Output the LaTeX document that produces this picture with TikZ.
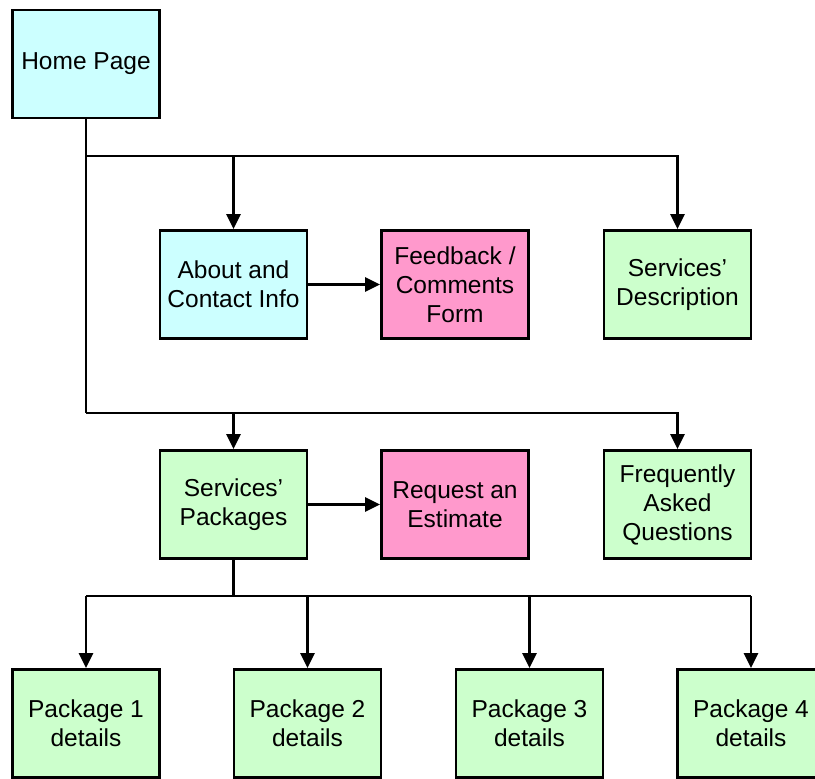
\documentclass[tikz,border=0pt]{standalone}
\usepackage{fontspec}
\setmainfont{Liberation Sans}
\usetikzlibrary{arrows.meta}
\definecolor{cyanbox}{HTML}{CCFFFF}
\definecolor{greenbox}{HTML}{CCFFCC}
\definecolor{pinkbox}{HTML}{FF99CC}
\tikzset{
  box/.style={draw=black, line width=2.8pt, minimum width=147pt, minimum height=108pt,
    inner sep=0pt, align=center, font=\fontsize{24.5}{29}\selectfont},
  cbox/.style={box, fill=cyanbox},
  gbox/.style={box, fill=greenbox},
  pbox/.style={box, fill=pinkbox},
  conn/.style={line width=2.8pt},
  arr/.style={conn, -{Triangle[length=15pt,width=14pt]}}
}
\begin{document}
\begin{tikzpicture}[x=1pt,y=-1pt]
\useasboundingbox (0,0) rectangle (815,779);
\fill[white] (0,0) rectangle (815,779);
\node[cbox] (home) at (86,64) {Home Page};
\node[cbox] (about) at (233.5,284.5) {About and\\Contact Info};
\node[pbox] (feed) at (455,284.5) {Feedback /\\Comments\\Form};
\node[gbox] (desc) at (677.5,284.5) {Services’\\Description};
\node[gbox] (pack) at (233.5,504.5) {Services’\\Packages};
\node[pbox] (req) at (455,504.5) {Request an\\Estimate};
\node[gbox] (faq) at (677.5,504.5) {Frequently\\Asked\\Questions};
\node[gbox] (p1) at (86,723.5) {Package 1\\details};
\node[gbox] (p2) at (307.5,723.5) {Package 2\\details};
\node[gbox] (p3) at (529.5,723.5) {Package 3\\details};
\node[gbox] (p4) at (751,723.5) {Package 4\\details};
\coordinate (b1) at (86,156);
\coordinate (b2) at (86,413);
\coordinate (b3) at (233.5,596);
\draw[conn] (home.south) -- (b2);
\draw[arr] (b1) -| (desc.north);
\draw[arr] (about.north |- b1) -- (about.north);
\draw[arr] (b2) -| (faq.north);
\draw[arr] (pack.north |- b2) -- (pack.north);
\draw[arr] (about) -- (feed);
\draw[arr] (pack) -- (req);
\draw[conn] (pack.south) -- (b3);
\draw[conn] (p1.north |- b3) -- (p4.north |- b3);
\draw[arr] (p1.north |- b3) -- (p1.north);
\draw[arr] (p2.north |- b3) -- (p2.north);
\draw[arr] (p3.north |- b3) -- (p3.north);
\draw[arr] (p4.north |- b3) -- (p4.north);
\end{tikzpicture}
\end{document}
